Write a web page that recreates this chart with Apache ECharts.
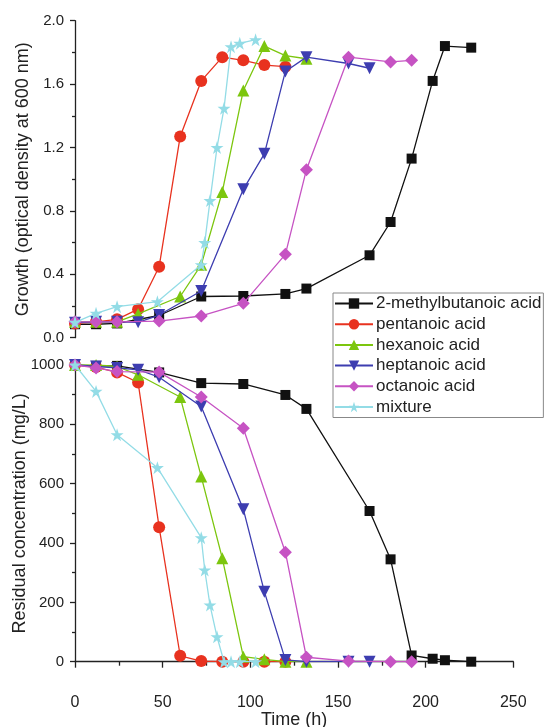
<!DOCTYPE html>
<html><head><meta charset="utf-8">
<script src="https://cdn.jsdelivr.net/npm/echarts@6/dist/echarts.min.js"></script>
<style>html,body{margin:0;padding:0;background:#fff}#c{width:545px;height:727px}</style>
</head><body><div id="c"></div>
<script>
// ---- data ----
const seriesNames = ['2-methylbutanoic acid','pentanoic acid','hexanoic acid','heptanoic acid','octanoic acid','mixture'];
const xTicks = [0,50,100,150,200,250];
const growthTicks = [0.0,0.4,0.8,1.2,1.6,2.0];
const residualTicks = [0,200,400,600,800,1000];

const timeBlackG = [0,12,24,48,72,96,120,132,168,180,192,204,211,226];
const growthBlack = [0.085,0.085,0.09,0.14,0.26,0.263,0.276,0.31,0.52,0.73,1.13,1.62,1.84,1.83];
const timeBlackR = [0,12,24,48,72,96,120,132,168,180,192,204,211,226];
const residualBlack = [1000,997,997,975,939,936,899,852,508,345,21,10,5,0];

const timeRed = [0,12,24,36,48,60,72,84,96,108,120];
const growthRed = [0.09,0.1,0.116,0.18,0.448,1.27,1.62,1.77,1.75,1.72,1.71];
const residualRed = [1000,993,975,941,453,20,2,0,0,0,0];

const timeGreen = [0,12,24,36,60,72,84,96,108,120,132];
const growthGreen = [0.1,0.1,0.1,0.15,0.26,0.46,0.92,1.56,1.84,1.78,1.76];
const residualGreen = [1000,1000,995,967,892,624,349,17,8,0,0];

const timeBlue = [0,12,24,36,48,72,96,108,120,132,156,168];
const growthBlue = [0.095,0.1,0.1,0.097,0.143,0.295,0.936,1.16,1.68,1.77,1.73,1.70];
const residualBlue = [1000,995,990,984,959,860,514,236,6,0,0,0];

const timeMagenta = [0,12,24,48,72,96,120,132,156,180,192];
const growthMagenta = [0.1,0.1,0.1,0.105,0.137,0.217,0.526,1.06,1.77,1.74,1.75];
const residualMagenta = [1000,990,978,976,892,787,369,15,2,0,0];

const timeCyan = [0,12,24,47,72,74,77,81,85,89,94,103];
const growthCyan = [0.097,0.154,0.196,0.227,0.46,0.6,0.865,1.2,1.447,1.836,1.857,1.88];
const residualCyan = [1000,911,765,654,418,309,191,84,0,0,0,0];

// ---- styling ----
const FONT = 'Liberation Sans, Arial, sans-serif';
const colors = ['#111111','#e8321f','#7cc60e','#3d3db0','#c653c3','#93dce6'];
const STAR = 'path://M50,0 L61.2,34.5 L97.6,34.5 L68.2,55.9 L79.4,90.5 L50,69.1 L20.6,90.5 L31.8,55.9 L2.4,34.5 L38.8,34.5 Z';
const DOWN = 'path://M0,0 L10,0 L5,9 Z';
const symbols = ['rect','circle','triangle',DOWN,'diamond',STAR];
const sizes = [10,12,12,12,13,13];

const growthSets = [[timeBlackG,growthBlack],[timeRed,growthRed],[timeGreen,growthGreen],[timeBlue,growthBlue],[timeMagenta,growthMagenta],[timeCyan,growthCyan]];
const residualSets = [[timeBlackR,residualBlack],[timeRed,residualRed],[timeGreen,residualGreen],[timeBlue,residualBlue],[timeMagenta,residualMagenta],[timeCyan,residualCyan]];
const pair = (t,v) => t.map((x,i)=>[x,v[i]]);

const series = [];
seriesNames.forEach((name,i)=>{
  const common = {
    name, type:'line', symbol:symbols[i], symbolSize:sizes[i],
    lineStyle:{color:colors[i],width:1.3}, itemStyle:{color:colors[i]},
    animation:false, z: 2+i
  };
  series.push(Object.assign({}, common, {xAxisIndex:0,yAxisIndex:0,data:pair(growthSets[i][0],growthSets[i][1])}));
  series.push(Object.assign({}, common, {xAxisIndex:1,yAxisIndex:1,data:pair(residualSets[i][0],residualSets[i][1])}));
});

const axisLine = {show:true,lineStyle:{color:'#222',width:1.3}};
const lbl = {color:'#222',fontFamily:FONT};

const chart = echarts.init(document.getElementById('c'),null,{renderer:'canvas'});
chart.setOption({
  backgroundColor:'#fff',
  animation:false,
  grid:[
    {left:75,top:20.7,width:438.3,height:317,containLabel:false,outerBoundsMode:'none'},
    {left:75,top:365,width:438.3,height:296.7,containLabel:false,outerBoundsMode:'none'}
  ],
  xAxis:[
    {gridIndex:0,type:'value',min:xTicks[0],max:xTicks[xTicks.length-1],interval:50,show:false},
    {gridIndex:1,type:'value',min:xTicks[0],max:xTicks[xTicks.length-1],interval:50,
     offset:20.6,axisLine:axisLine,
     axisTick:{show:true,inside:false,length:6,lineStyle:{color:'#222',width:1.3}},
     minorTick:{show:true,splitNumber:2,length:4,lineStyle:{color:'#222',width:1.3}},
     splitLine:{show:false},
     axisLabel:Object.assign({fontSize:16,margin:12},lbl),
     name:'Time (h)',nameLocation:'middle',nameGap:29,nameMoveOverlap:false,
     nameTextStyle:{fontSize:18,color:'#222',fontFamily:FONT}}
  ],
  yAxis:[
    {gridIndex:0,type:'value',min:growthTicks[0],max:growthTicks[growthTicks.length-1],interval:0.4,
     offset:3,axisLine:axisLine,
     axisTick:{show:true,inside:false,length:5,lineStyle:{color:'#222',width:1.3}},
     minorTick:{show:true,splitNumber:2,length:3,lineStyle:{color:'#222',width:1.3}},
     splitLine:{show:false},
     axisLabel:Object.assign({fontSize:15,margin:8,formatter:v=>v.toFixed(1)},lbl),
     name:'Growth (optical density at 600 nm)',nameLocation:'middle',nameGap:40,nameMoveOverlap:false,
     nameTextStyle:{fontSize:18,color:'#222',fontFamily:FONT}},
    {gridIndex:1,type:'value',min:residualTicks[0],max:residualTicks[residualTicks.length-1],interval:200,
     offset:3,axisLine:axisLine,
     axisTick:{show:true,inside:false,length:5,lineStyle:{color:'#222',width:1.3}},
     minorTick:{show:true,splitNumber:2,length:3,lineStyle:{color:'#222',width:1.3}},
     splitLine:{show:false},
     axisLabel:Object.assign({fontSize:15,margin:8,formatter:v=>String(v)},lbl),
     name:'Residual concentration (mg/L)',nameLocation:'middle',nameGap:43,nameMoveOverlap:false,
     nameTextStyle:{fontSize:18,color:'#222',fontFamily:FONT}}
  ],
  legend:{
    data:seriesNames, orient:'vertical', left:333, top:293,
    itemWidth:38, itemHeight:13, itemGap:3.7,
    padding:[2,2,2,1],
    borderColor:'#888', borderWidth:1, backgroundColor:'#fff',
    textStyle:{fontSize:17,lineHeight:17,color:'#222',fontFamily:FONT,padding:[0,0,0,-2]},
    z:20
  },
  series
});
</script></body></html>
